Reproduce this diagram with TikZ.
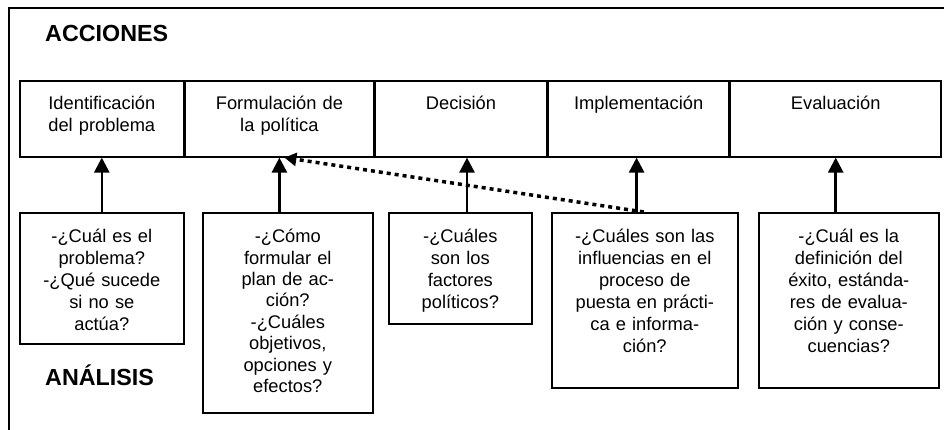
\documentclass[tikz,border=0pt]{standalone}
\usepackage{fontspec}
\setmainfont{Liberation Sans}
\usetikzlibrary{arrows.meta,positioning,calc}

\tikzset{
  marco/.style={line width=1.6pt},
  caja/.style={draw, line width=1.6pt, inner sep=0pt, align=center, anchor=north west,
    font=\fontsize{18.3}{22}\selectfont},
  titulo/.style={anchor=base west, inner sep=0pt, font=\fontsize{23.3}{28}\selectfont\bfseries},
  flecha/.style={line width=2.6pt, -{Triangle[width=15pt,length=15pt]}},
  punteada/.style={line width=3.5pt, dash pattern=on 4pt off 4pt, -{Triangle[width=13pt,length=12pt]}}
}

\begin{document}
\begin{tikzpicture}[x=1pt,y=-1pt]
  \useasboundingbox (0,0) rectangle (944,430);
  \draw[marco] (944,8) -| (9,430);

  \node[titulo] (acciones) at (45,42) {ACCIONES};
  \node[titulo] (analisis) at (45,385) {ANÁLISIS};

  % acciones
  \node[caja, text width=164pt, text height=29pt, text depth=47pt] (ac1) at (19,80) {Identificación\\del problema};
  \node[caja, text width=188pt, text height=29pt, text depth=47pt, right=0pt of ac1] (ac2) {Formulación de\\la política};
  \node[caja, text width=172pt, text height=29pt, text depth=47pt, right=0pt of ac2] (ac3) {Decisión};
  \node[caja, text width=180pt, text height=29pt, text depth=47pt, right=0pt of ac3] (ac4) {Implementación};
  \node[caja, text width=211pt, text height=29pt, text depth=47pt, right=0pt of ac4] (ac5) {Evaluación};

  % analisis
  \node[caja, text width=164pt, text height=30pt, text depth=101pt] (an1) at (19,212) {-¿Cuál es el\\problema?\\-¿Qué sucede\\si no se\\actúa?};
  \node[caja, text width=170pt, text height=30pt, text depth=170pt, font=\fontsize{18.3}{21.4}\selectfont] (an2) at (202,212) {-¿Cómo\\formular el\\plan de ac-\\ción?\\-¿Cuáles\\objetivos,\\opciones y\\efectos?};
  \node[caja, text width=143pt, text height=30pt, text depth=81pt] (an3) at (388,212) {-¿Cuáles\\son los\\factores\\políticos?};
  \node[caja, text width=186pt, text height=30pt, text depth=145pt] (an4) at (551,212) {-¿Cuáles son las\\influencias en el\\proceso de\\puesta en prácti-\\ca e informa-\\ción?};
  \node[caja, text width=180pt, text height=30pt, text depth=145pt] (an5) at (758,212) {-¿Cuál es la\\definición del\\éxito, estánda-\\res de evalua-\\ción y conse-\\cuencias?};

  \foreach \i/\d in {1/0,2/0,3/6,4/-2,5/0}{
    \coordinate (t\i) at ($(ac\i.south)+(\d,0)$);
    \draw[flecha] (t\i |- an\i.north) -- (t\i);
  }
  \draw[punteada] ([xshift=-1pt]an4.north) -- ([xshift=5pt]ac2.south);
\end{tikzpicture}
\end{document}
